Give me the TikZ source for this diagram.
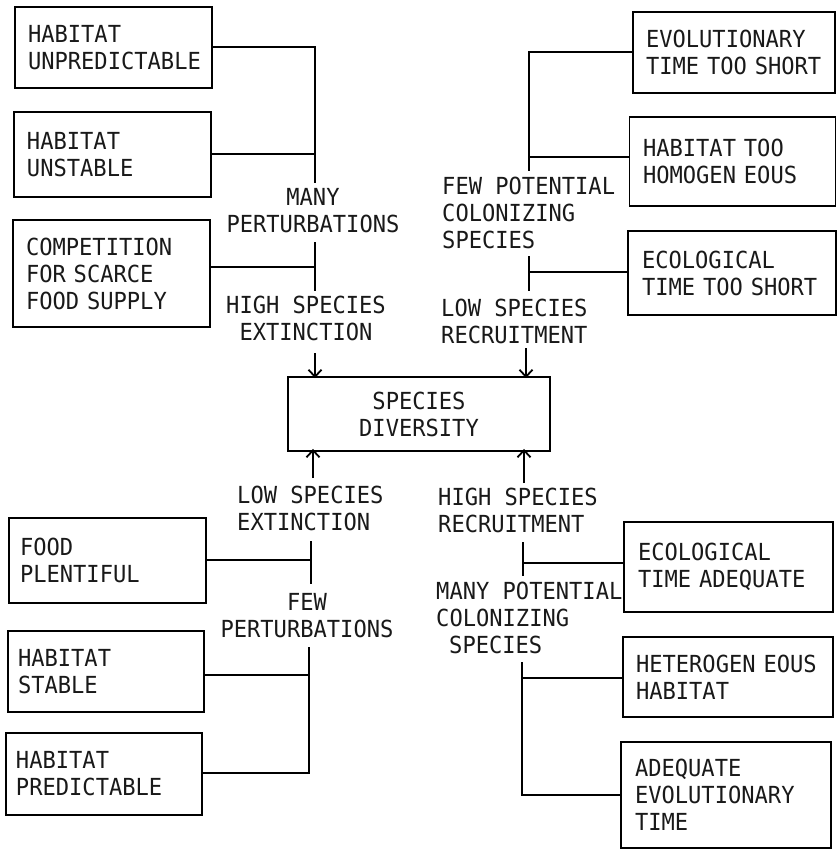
\documentclass[tikz,border=0pt]{standalone}
\usepackage{fontspec}
\newfontfamily\tw[FakeStretch=0.94]{DejaVu Sans Mono}
\usetikzlibrary{arrows.meta}
\tikzset{
  txt/.style={font=\tw\fontsize{23.5}{27}\selectfont, inner sep=0pt, text=black!90},
  box/.style={txt, draw=black, line width=1.9pt, align=left, inner xsep=13pt},
  lbl/.style={txt},
  conn/.style={line width=1.8pt, line cap=rect},
  arr/.style={line width=1.8pt, -{Straight Barb[length=7pt,width=13pt,line width=1.8pt]}}
}
\begin{document}
\begin{tikzpicture}[x=1pt,y=-1pt]
\useasboundingbox[fill=white] (0,0) rectangle (836,852);

% ---- boxes ----
\node[box, minimum width=197, minimum height=81, text width=171] (L1) at (113.5,47.5) {HABITAT\\UNPREDICTABLE};
\node[box, minimum width=197, minimum height=85, text width=171] (L2) at (112.5,154.5) {HABITAT\\UNSTABLE};
\node[box, minimum width=197, minimum height=107, text width=171] (L3) at (111.5,273.5) {COMPETITION\\FOR SCARCE\\FOOD SUPPLY};

\node[box, minimum width=202, minimum height=81, text width=176] (R1) at (734,52.5) {EVOLUTIONARY\\TIME TOO SHORT};
\node[box, minimum width=205, minimum height=89, text width=179, inner xsep=13.5pt] (R2) at (732.5,161.5) {HABITAT TOO\\HOMOGEN EOUS};
\node[box, minimum width=206, minimum height=84, text width=180, inner xsep=14pt] (R3) at (732,273) {ECOLOGICAL\\TIME TOO SHORT};

\node[box, align=center, minimum width=262, minimum height=74, text width=236] (C) at (419,414) {SPECIES\\DIVERSITY};

\node[box, minimum width=197, minimum height=85, text width=175, inner xsep=11pt] (BL1) at (107.5,560.5) {FOOD\\PLENTIFUL};
\node[box, minimum width=196, minimum height=81, text width=176, inner xsep=10pt] (BL2) at (106,671.5) {HABITAT\\STABLE};
\node[box, minimum width=196, minimum height=82, text width=176, inner xsep=10pt] (BL3) at (104,774) {HABITAT\\PREDICTABLE};

\node[box, minimum width=209, minimum height=90, text width=181, inner xsep=14pt] (BR1) at (728.5,567) {ECOLOGICAL\\TIME ADEQUATE};
\node[box, minimum width=210, minimum height=80, text width=184] (BR2) at (728,677) {HETEROGEN EOUS\\HABITAT};
\node[box, minimum width=210, minimum height=106, text width=182, inner xsep=14pt] (BR3) at (726,795) {ADEQUATE\\EVOLUTIONARY\\TIME};

% ---- labels ----
\node[lbl, align=center] (mp) at (313,210.5) {MANY\\PERTURBATIONS};
\node[lbl, align=center] (hse) at (306,318.5) {HIGH SPECIES\\EXTINCTION};
\node[lbl, align=left, anchor=west] (fpc) at (442,213) {FEW POTENTIAL\\COLONIZING\\SPECIES};
\node[lbl, align=left, anchor=west] (lsr) at (441,321.5) {LOW SPECIES\\RECRUITMENT};
\node[lbl, align=left, anchor=west] (lse) at (237,508.5) {LOW SPECIES\\EXTINCTION};
\node[lbl, align=center] (fp) at (307,616) {FEW\\PERTURBATIONS};
\node[lbl, align=left, anchor=west] (hsr) at (438,510.5) {HIGH SPECIES\\RECRUITMENT};
\node[lbl, align=left, anchor=west] (mpc) at (436,618) {MANY POTENTIAL\\COLONIZING\\\hspace*{13pt}SPECIES};

% ---- junction coordinates ----
\coordinate (a1) at (315,47);  \coordinate (a2) at (315,154); \coordinate (a3) at (315,182);
\coordinate (a4) at (315,243); \coordinate (a5) at (315,267); \coordinate (a6) at (315,290);
\coordinate (a7) at (315,353);
\coordinate (b1) at (529,52);  \coordinate (b2) at (529,157); \coordinate (b3) at (529,170);
\coordinate (b4) at (529,257); \coordinate (b5) at (529,272); \coordinate (b6) at (529,290);
\coordinate (b7) at (526,348);
\coordinate (c1) at (313,478);
\coordinate (c2) at (311,542); \coordinate (c3) at (311,560); \coordinate (c4) at (311,583);
\coordinate (c5) at (309,648); \coordinate (c6) at (309,675); \coordinate (c7) at (309,773);
\coordinate (d1) at (524,483);
\coordinate (d2) at (523,543); \coordinate (d3) at (523,563); \coordinate (d4) at (523,575);
\coordinate (d5) at (522,663); \coordinate (d6) at (522,678); \coordinate (d7) at (522,795);

% ---- top left ----
\draw[conn] (L1.east |- a1) -- (a1) -- (a3);
\draw[conn] (L2.east |- a2) -- (a2);
\draw[conn] (a4) -- (a6);
\draw[conn] (L3.east |- a5) -- (a5);
\draw[arr] (a7) -- ([yshift=-2pt]a7 |- C.north);

% ---- top right ----
\draw[conn] (R1.west |- b1) -- (b1) -- (b3);
\draw[conn] (R2.west |- b2) -- (b2);
\draw[conn] (b4) -- (b6);
\draw[conn] (R3.west |- b5) -- (b5);
\draw[arr] (b7) -- ([yshift=-2pt]b7 |- C.north);

% ---- bottom left ----
\draw[arr] (c1) -- ([yshift=3pt]c1 |- C.south);
\draw[conn] (c2) -- (c4);
\draw[conn] (BL1.east |- c3) -- (c3);
\draw[conn] (c5) -- (c7) -- (BL3.east |- c7);
\draw[conn] (BL2.east |- c6) -- (c6);

% ---- bottom right ----
\draw[arr] (d1) -- ([yshift=3pt]d1 |- C.south);
\draw[conn] (d2) -- (d4);
\draw[conn] (BR1.west |- d3) -- (d3);
\draw[conn] (d5) -- (d7) -- (BR3.west |- d7);
\draw[conn] (BR2.west |- d6) -- (d6);
\end{tikzpicture}
\end{document}
